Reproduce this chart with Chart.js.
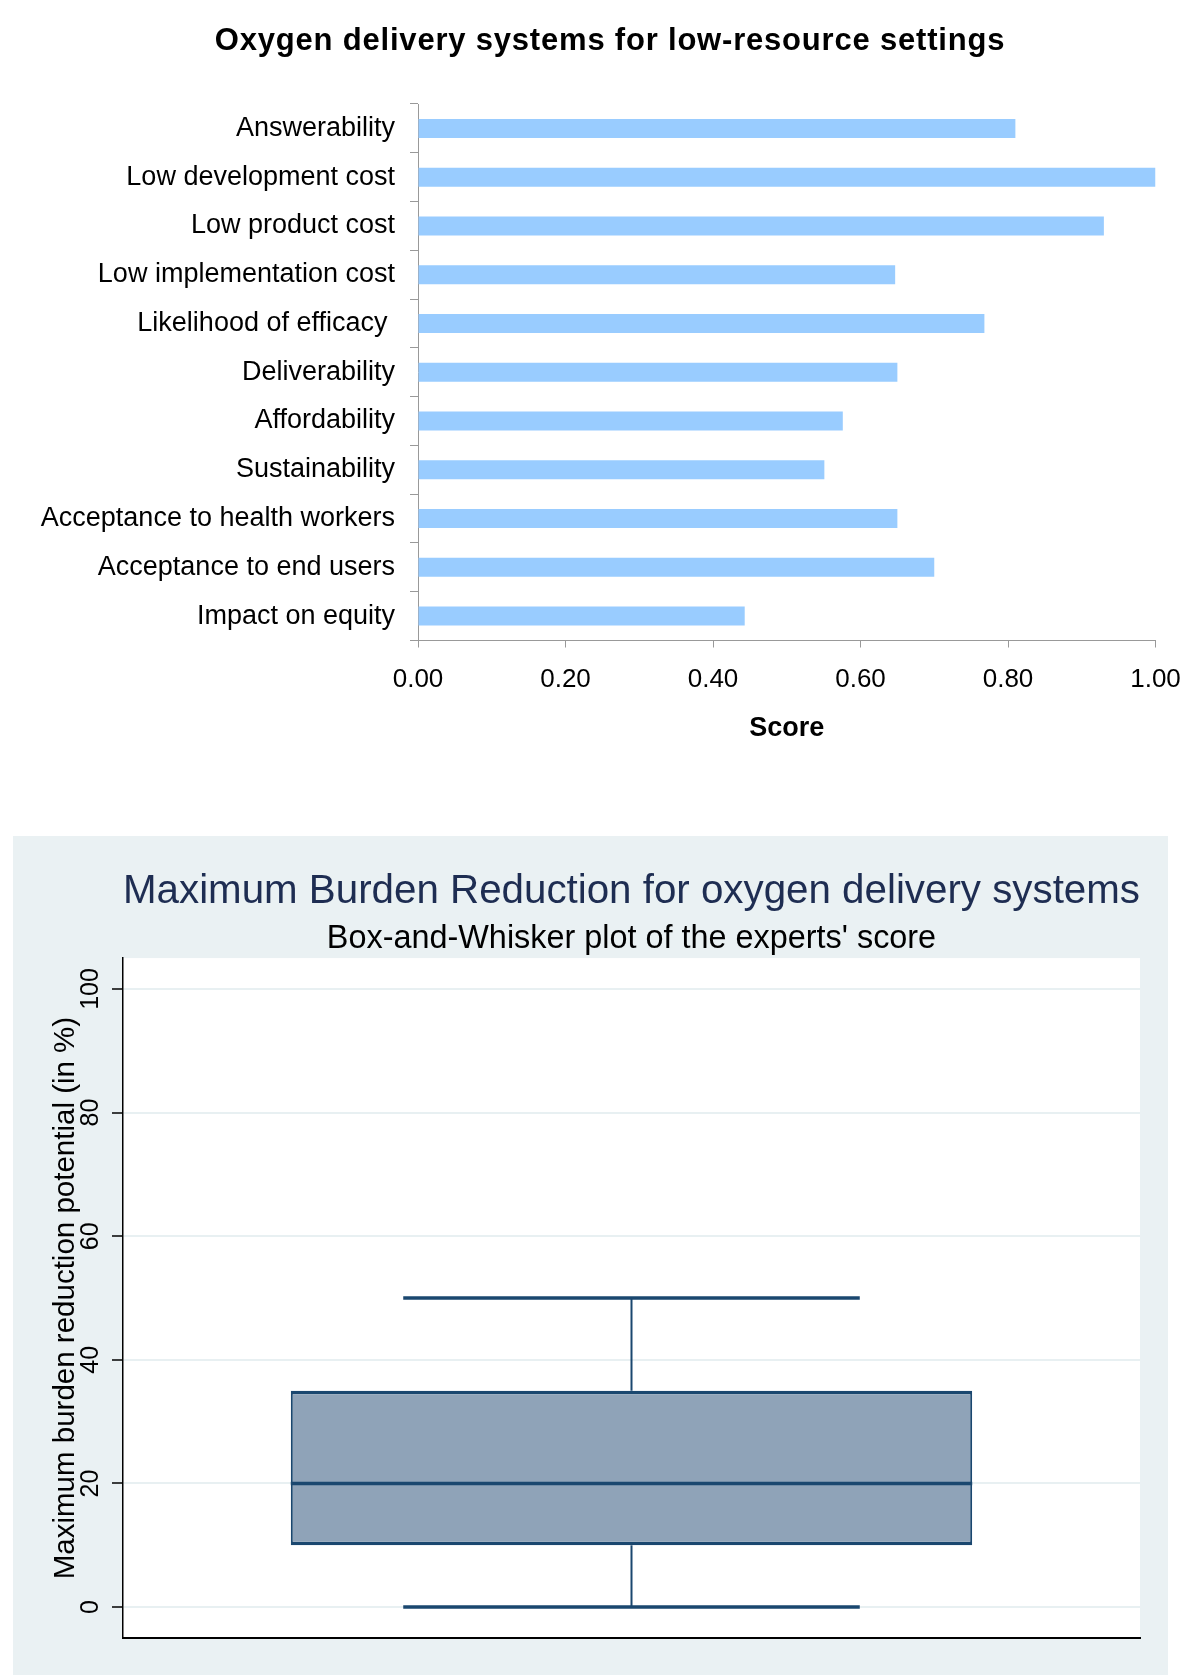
<!DOCTYPE html>
<html>
<head>
<meta charset="utf-8">
<script src="https://cdn.jsdelivr.net/npm/chart.js@4.4.1/dist/chart.umd.min.js"></script>
<style>
  html, body { margin: 0; padding: 0; background: #fff; }
  body { width: 1200px; height: 1680px; position: relative; overflow: hidden; }
  #top-wrap { position: absolute; left: 0; top: 0; width: 1200px; height: 780px; }
  #box-wrap { position: absolute; left: 13px; top: 836px; width: 1155px; height: 839px; background: #eaf1f3; }
</style>
</head>
<body>
<div id="top-wrap"><canvas id="scores"></canvas></div>
<div id="box-wrap"><canvas id="burden"></canvas></div>
<script>
'use strict';

// top panel: criteria scores
const criteria = [
  'Answerability',
  'Low development cost',
  'Low product cost',
  'Low implementation cost',
  'Likelihood of efficacy ',
  'Deliverability',
  'Affordability',
  'Sustainability',
  'Acceptance to health workers',
  'Acceptance to end users',
  'Impact on equity',
];
const scores = [0.81, 1.00, 0.93, 0.647, 0.768, 0.65, 0.576, 0.551, 0.65, 0.70, 0.443];
const scoreTicks = [0, 0.2, 0.4, 0.6, 0.8, 1.0];

// bottom panel: box plot of experts' score (min, q1, median, q3, max)
const burdenStats = [0, 10, 20, 35, 50];
const burdenTicks = [0, 20, 40, 60, 80, 100];

const FONT = '"Liberation Sans", Arial, sans-serif';
const NAVY = '#1a476f';
Chart.defaults.font.family = FONT;

// the top title sits off-centre in the original, so it is drawn here
// instead of through the title plugin (which would centre it on the canvas)
const topTitle = {
  id: 'topTitle',
  afterDraw(chart) {
    const ctx = chart.ctx;
    ctx.save();
    ctx.font = 'bold 31px ' + FONT;
    ctx.letterSpacing = '0.8px';
    ctx.fillStyle = '#000';
    ctx.textAlign = 'center';
    ctx.textBaseline = 'middle';
    ctx.fillText('Oxygen delivery systems for low-resource settings', 610, 41);
    ctx.restore();
  },
};

new Chart(document.getElementById('scores'), {
  type: 'bar',
  data: {
    labels: criteria,
    datasets: [{
      data: scores,
      backgroundColor: '#99ccff',
      barPercentage: 0.39,
      categoryPercentage: 1,
    }],
  },
  options: {
    indexAxis: 'y',
    responsive: true,
    maintainAspectRatio: false,
    animation: false,
    layout: { padding: { left: 0, right: 44.5, top: 104, bottom: 0 } },
    plugins: {
      legend: { display: false },
      tooltip: { enabled: false },
      title: { display: false },
    },
    scales: {
      x: {
        type: 'linear',
        min: 0,
        max: 1,
        afterBuildTicks: s => { s.ticks = scoreTicks.map(v => ({ value: v })); },
        ticks: { callback: v => Number(v).toFixed(2), color: '#000', font: { size: 26 }, padding: 17, maxRotation: 0 },
        grid: { drawOnChartArea: false, tickLength: 7, tickColor: '#999', color: '#999' },
        border: { color: '#999' },
        title: {
          display: true,
          text: 'Score',
          color: '#000',
          font: { size: 27, weight: 'bold' },
          padding: { top: 0, bottom: 35 },
        },
        afterFit: s => { s.height = 139.5; },
      },
      y: {
        ticks: { color: '#000', font: { size: 27 }, padding: 15, autoSkip: false },
        grid: { offset: true, drawOnChartArea: false, tickLength: 8, tickColor: '#999' },
        border: { color: '#999' },
        afterFit: s => { s.width = 418; },
      },
    },
  },
  plugins: [topTitle],
});

// white plot region on the tinted panel
const plotBg = {
  id: 'plotBg',
  beforeDraw(chart) {
    const { ctx, chartArea: a } = chart;
    ctx.save();
    ctx.fillStyle = '#fff';
    ctx.fillRect(a.left, a.top, a.right - a.left, a.bottom - a.top);
    ctx.restore();
  },
};

// median line and whiskers, placed with the bar element and the y scale
const whiskers = {
  id: 'whiskers',
  afterDatasetsDraw(chart) {
    const bar = chart.getDatasetMeta(0).data[0];
    const y = chart.scales.y;
    const ctx = chart.ctx;
    const [mn, q1, med, q3, mx] = burdenStats;
    const half = bar.width / 2;
    const cap = bar.width * 0.335;
    const line = (x1, y1, x2, y2, w) => {
      ctx.lineWidth = w;
      ctx.beginPath();
      ctx.moveTo(x1, y1);
      ctx.lineTo(x2, y2);
      ctx.stroke();
    };
    ctx.save();
    ctx.strokeStyle = NAVY;
    line(bar.x, y.getPixelForValue(q3), bar.x, y.getPixelForValue(mx), 2);
    line(bar.x, y.getPixelForValue(q1), bar.x, y.getPixelForValue(mn), 2);
    line(bar.x - cap, y.getPixelForValue(mx), bar.x + cap, y.getPixelForValue(mx), 3.5);
    line(bar.x - cap, y.getPixelForValue(mn), bar.x + cap, y.getPixelForValue(mn), 3.5);
    line(bar.x - half, y.getPixelForValue(med), bar.x + half, y.getPixelForValue(med), 3.5);
    ctx.restore();
  },
};

new Chart(document.getElementById('burden'), {
  type: 'bar',
  data: {
    labels: [''],
    datasets: [{
      data: [[burdenStats[1], burdenStats[3]]],
      backgroundColor: '#8fa3b8',
      borderColor: NAVY,
      borderWidth: { top: 3.5, bottom: 3.5, left: 2, right: 2 },
      borderSkipped: false,
      barPercentage: 0.67,
      categoryPercentage: 1,
    }],
  },
  options: {
    responsive: true,
    maintainAspectRatio: false,
    animation: false,
    layout: { padding: { left: 0, right: 28, top: 0, bottom: 0 } },
    plugins: {
      legend: { display: false },
      tooltip: { enabled: false },
      title: {
        display: true,
        fullSize: false,
        text: 'Maximum Burden Reduction for oxygen delivery systems',
        color: '#1e2d52',
        font: { size: 41, weight: 'normal' },
        padding: { top: 31, bottom: 3 },
      },
      subtitle: {
        display: true,
        fullSize: false,
        text: "Box-and-Whisker plot of the experts' score",
        color: '#000',
        font: { size: 32.4 },
        padding: { top: 0, bottom: 0 },
      },
    },
    scales: {
      x: {
        ticks: { display: false },
        grid: { display: false },
        border: { display: true, color: '#000', width: 2 },
        afterFit: s => { s.height = 37; },
      },
      y: {
        min: -5,
        max: 105,
        afterBuildTicks: s => { s.ticks = burdenTicks.map(v => ({ value: v })); },
        ticks: { color: '#000', font: { size: 25 }, minRotation: 90, maxRotation: 90, crossAlign: 'center', padding: 0 },
        grid: { color: '#e8f0f2', lineWidth: 2, tickColor: '#000', tickLength: 11, tickWidth: 1.5 },
        border: { display: true, color: '#000', width: 1.5 },
        title: {
          display: true,
          text: 'Maximum burden reduction potential (in %)',
          color: '#000',
          font: { size: 29.5 },
          padding: { top: 35, bottom: 0 },
        },
        afterFit: s => { s.width = 110; },
      },
    },
  },
  plugins: [plotBg, whiskers],
});
</script>
</body>
</html>
